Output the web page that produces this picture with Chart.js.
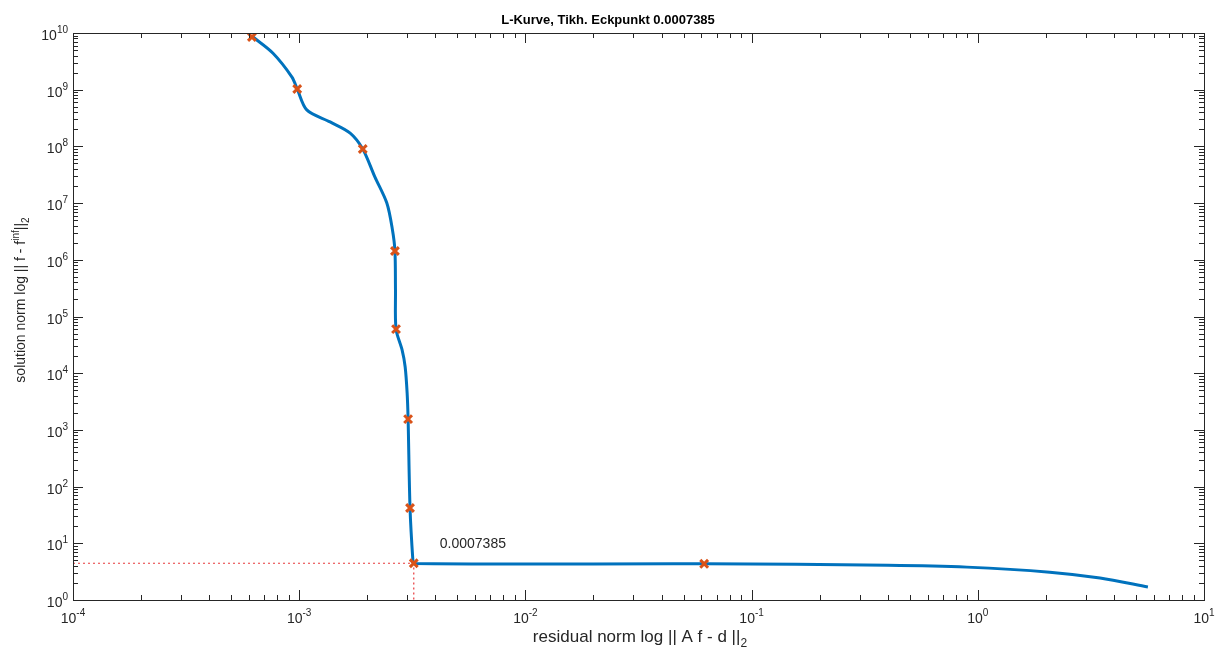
<!DOCTYPE html>
<html>
<head>
<meta charset="utf-8">
<script src="https://cdn.jsdelivr.net/npm/chart.js@4.4.0/dist/chart.umd.min.js"></script>
<style>
  html, body { margin: 0; padding: 0; background: #fff; }
  #wrap { width: 1217px; height: 655px; }
</style>
</head>
<body>
<div id="wrap"><canvas id="lcurve"></canvas></div>
<script>
// L-Kurve Daten
var curveX = [6.25e-4, 7.66e-4, 9.29e-4, 9.8e-4, 1.08e-3, 1.37e-3, 1.68e-3, 1.91e-3, 2.16e-3, 2.44e-3, 2.58e-3, 2.65e-3, 2.665e-3, 2.68e-3, 2.85e-3, 2.94e-3, 3.0e-3, 3.03e-3, 3.09e-3, 3.18e-3, 3.21e-3, 0.0617, 0.4, 0.895, 2.08, 3.47, 5.65];
var curveY = [8.5e9, 4.4e9, 1.67e9, 1.03e9, 4.4e8, 2.7e8, 1.72e8, 9e7, 2.9e7, 1e7, 3.5e6, 1.43e6, 2.9e5, 6e4, 2.57e4, 1.3e4, 4.5e3, 1.55e3, 42, 5.1, 4.4, 4.35, 4.1, 3.8, 3.1, 2.44, 1.7];

// Tikhonov Parameter Stuetzstellen (Kreuze)
var markX = [6.18e-4, 9.8e-4, 1.91e-3, 2.65e-3, 2.68e-3, 3.03e-3, 3.09e-3, 3.21e-3, 0.0617];
var markY = [8.5e9, 1.03e9, 9e7, 1.43e6, 6e4, 1.55e3, 42, 4.45, 4.35];

// Eckpunkt
var cornerX = 3.21e-3;
var cornerY = 4.45;
var cornerLabel = '0.0007385';

var xExps = [-4, -3, -2, -1, 0, 1];
var yExps = [0, 1, 2, 3, 4, 5, 6, 7, 8, 9, 10];

var titleText = 'L-Kurve, Tikh. Eckpunkt 0.0007385';

var FONT = '"Liberation Sans", Arial, Helvetica, sans-serif';
var AXCOL = '#262626';

function pts(xs, ys) {
  return xs.map(function (v, i) { return { x: v, y: ys[i] }; });
}

// achsen, ticks und beschriftung im matlab stil
var matlabAxes = {
  id: 'matlabAxes',
  afterDraw: function (chart) {
    var ctx = chart.ctx, a = chart.chartArea;
    var sx = chart.scales.x, sy = chart.scales.y;
    ctx.save();
    ctx.strokeStyle = AXCOL;
    ctx.lineWidth = 1;
    ctx.strokeRect(Math.round(a.left) + 0.5, Math.round(a.top) + 0.5, Math.round(a.right - a.left), Math.round(a.bottom - a.top));

    ctx.beginPath();
    xExps.forEach(function (e) {
      for (var m = 1; m <= 9; m++) {
        var v = m * Math.pow(10, e);
        if (v > sx.max * 1.0001) break;
        var px = Math.round(sx.getPixelForValue(v)) + 0.5;
        var len = m === 1 ? 10 : 5;
        ctx.moveTo(px, a.bottom); ctx.lineTo(px, a.bottom - len);
        ctx.moveTo(px, a.top); ctx.lineTo(px, a.top + len);
      }
    });
    yExps.forEach(function (e) {
      for (var m = 1; m <= 9; m++) {
        var v = m * Math.pow(10, e);
        if (v > sy.max * 1.0001) break;
        var py = Math.round(sy.getPixelForValue(v)) + 0.5;
        var len = m === 1 ? 10 : 5;
        ctx.moveTo(a.left, py); ctx.lineTo(a.left + len, py);
        ctx.moveTo(a.right, py); ctx.lineTo(a.right - len, py);
      }
    });
    ctx.stroke();

    // tick labels 10^n
    ctx.fillStyle = AXCOL;
    ctx.textBaseline = 'alphabetic';
    ctx.textAlign = 'left';
    xExps.forEach(function (e) {
      var px = sx.getPixelForValue(Math.pow(10, e));
      ctx.font = '14px ' + FONT;
      var w1 = ctx.measureText('10').width;
      ctx.font = '10px ' + FONT;
      var w2 = ctx.measureText(String(e)).width;
      var x0 = px - (w1 + w2) / 2;
      ctx.font = '14px ' + FONT;
      ctx.fillText('10', x0, a.bottom + 23);
      ctx.font = '10px ' + FONT;
      ctx.fillText(String(e), x0 + w1, a.bottom + 16);
    });
    yExps.forEach(function (e) {
      var py = sy.getPixelForValue(Math.pow(10, e));
      ctx.font = '14px ' + FONT;
      var w1 = ctx.measureText('10').width;
      ctx.font = '10px ' + FONT;
      var w2 = ctx.measureText(String(e)).width;
      var x0 = a.left - 5 - w1 - w2;
      ctx.font = '14px ' + FONT;
      ctx.fillText('10', x0, py + 7);
      ctx.font = '10px ' + FONT;
      ctx.fillText(String(e), x0 + w1, py);
    });

    // titel
    ctx.font = 'bold 13px ' + FONT;
    ctx.textAlign = 'center';
    ctx.fillStyle = '#000';
    ctx.fillText(titleText, 608, 24);

    // x achsen titel mit index
    ctx.fillStyle = AXCOL;
    ctx.textAlign = 'left';
    ctx.font = '17px ' + FONT;
    var xt = 'residual norm log || A f - d ||';
    var wx = ctx.measureText(xt).width;
    ctx.font = '12px ' + FONT;
    var wx2 = ctx.measureText('2').width;
    var cx = 640;
    var xs0 = cx - (wx + wx2) / 2;
    ctx.font = '17px ' + FONT;
    ctx.fillText(xt, xs0, a.bottom + 42);
    ctx.font = '12px ' + FONT;
    ctx.fillText('2', xs0 + wx, a.bottom + 47);

    // y achsen titel: solution norm log || f - f^inf||_2
    ctx.translate(25, 300);
    ctx.rotate(-Math.PI / 2);
    var parts = [
      { t: 'solution norm log || f - f', f: 14, dy: 0 },
      { t: 'inf', f: 10, dy: -6 },
      { t: '||', f: 14, dy: 0 },
      { t: '2', f: 10, dy: 4 }
    ];
    var total = 0;
    parts.forEach(function (p) { ctx.font = p.f + 'px ' + FONT; p.w = ctx.measureText(p.t).width; total += p.w; });
    var xx = -total / 2;
    parts.forEach(function (p) {
      ctx.font = p.f + 'px ' + FONT;
      ctx.fillText(p.t, xx, p.dy);
      xx += p.w;
    });
    ctx.restore();

    // beschriftung am eckpunkt
    ctx.save();
    ctx.font = '14px ' + FONT;
    ctx.fillStyle = AXCOL;
    ctx.textAlign = 'left';
    var lx = sx.getPixelForValue(cornerX) + 26;
    var ly = sy.getPixelForValue(cornerY) - 15;
    ctx.fillText(cornerLabel, lx, ly);
    ctx.restore();
  }
};

var ctx = document.getElementById('lcurve').getContext('2d');
var myChart = new Chart(ctx, {
  type: 'scatter',
  data: {
    datasets: [
      {
        label: 'eckpunkt',
        data: [{ x: 1e-4, y: cornerY }, { x: cornerX, y: cornerY }, { x: cornerX, y: 1 }],
        showLine: true,
        borderColor: '#e8393b',
        borderWidth: 1.2,
        borderDash: [2, 3],
        pointRadius: 0,
        order: 3
      },
      {
        label: 'L-Kurve',
        data: pts(curveX, curveY),
        showLine: true,
        borderColor: '#0072BD',
        borderWidth: 3,
        pointRadius: 0,
        tension: 0.3,
        order: 2
      },
      {
        label: 'lambda',
        data: pts(markX, markY),
        showLine: false,
        pointStyle: 'crossRot',
        pointRadius: 5.5,
        pointBorderWidth: 3,
        pointBorderColor: '#D95319',
        borderColor: '#D95319',
        order: 1
      }
    ]
  },
  options: {
    responsive: true,
    maintainAspectRatio: false,
    animation: false,
    layout: { padding: { left: 73, top: 33, right: 13, bottom: 55 } },
    plugins: {
      legend: { display: false },
      tooltip: { enabled: false },
      title: { display: false }
    },
    scales: {
      x: {
        type: 'logarithmic',
        min: 1e-4,
        max: 10,
        grid: { display: false, drawTicks: false },
        border: { display: false },
        ticks: { display: false }
      },
      y: {
        type: 'logarithmic',
        min: 1,
        max: 1e10,
        grid: { display: false, drawTicks: false },
        border: { display: false },
        ticks: { display: false }
      }
    }
  },
  plugins: [matlabAxes]
});
</script>
</body>
</html>
